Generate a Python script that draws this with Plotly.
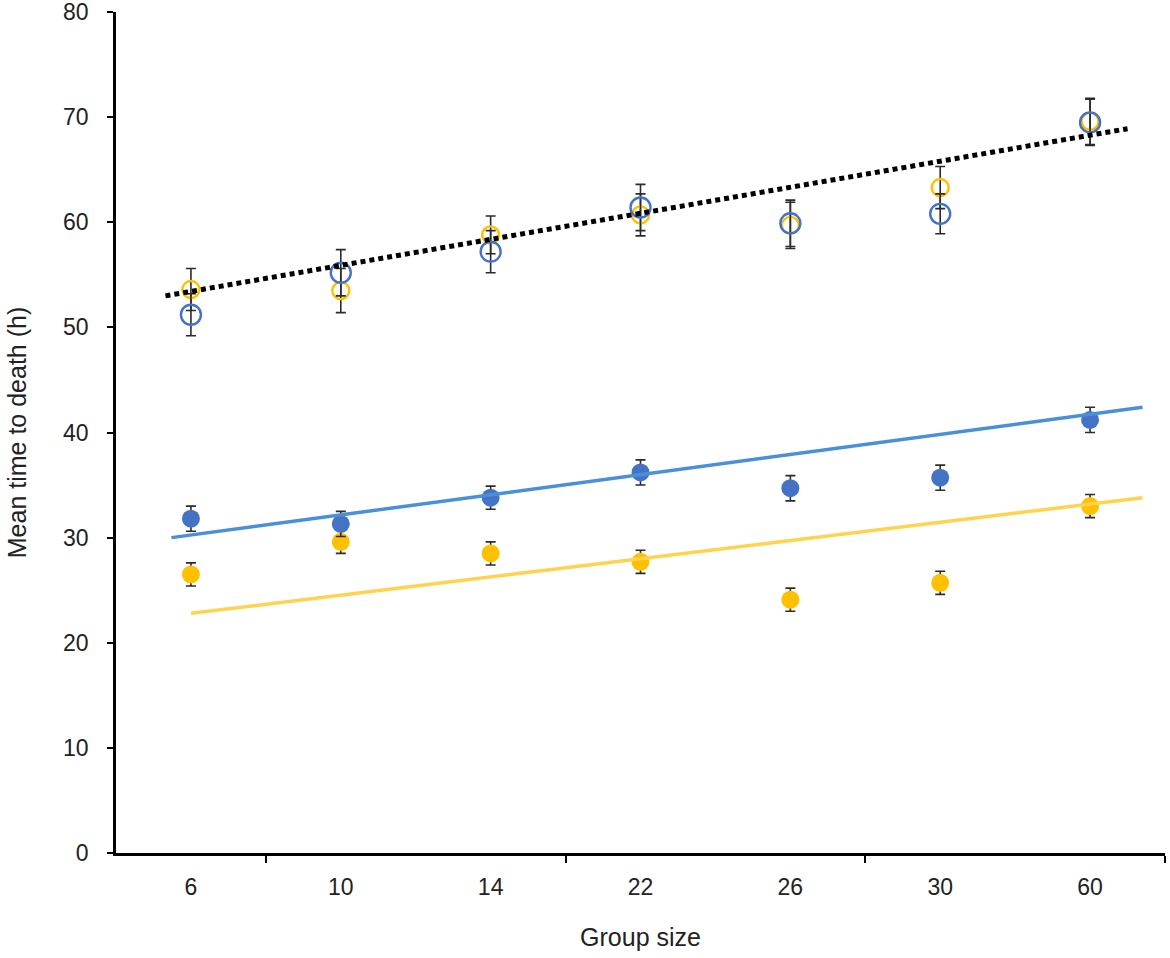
import plotly.graph_objects as go

# Categories (group size), equally spaced on a category axis
group_sizes = ["6", "10", "14", "22", "26", "30", "60"]
cat_index = list(range(len(group_sizes)))

# Filled markers
blue_filled = [31.8, 31.3, 33.8, 36.2, 34.7, 35.7, 41.2]
blue_filled_err = [1.2, 1.2, 1.1, 1.2, 1.2, 1.2, 1.2]
orange_filled = [26.5, 29.6, 28.5, 27.7, 24.1, 25.7, 33.0]
orange_filled_err = [1.1, 1.1, 1.1, 1.1, 1.1, 1.1, 1.1]

# Open markers
blue_open = [51.2, 55.2, 57.2, 61.4, 59.9, 60.8, 69.5]
blue_open_err = [2.0, 2.2, 2.0, 2.2, 2.2, 1.9, 2.2]
orange_open = [53.6, 53.5, 58.8, 60.7, 59.7, 63.3, 69.6]
orange_open_err = [2.0, 2.1, 1.8, 2.0, 2.2, 2.0, 2.2]

# Trend lines (x in category-index units, y values)
blue_trend_x = [-0.13, 6.35]
blue_trend_y = [30.0, 42.4]
orange_trend_x = [0.0, 6.35]
orange_trend_y = [22.8, 33.8]
black_trend_x = [-0.17, 6.25]
black_trend_y = [53.0, 68.9]

# Tick values for the axes
y_ticks = [0, 10, 20, 30, 40, 50, 60, 70, 80]
x_boundary_ticks = [0.5, 2.5, 4.5, 6.5]

BLUE = "#4472C4"
ORANGE = "#FFC000"
BLUE_LINE = "#4A90D9"
ORANGE_LINE = "#FFD34D"
ERR = "#2b2b2b"

fig = go.Figure()

def err(vals):
    return dict(type="data", array=vals, visible=True, color=ERR, thickness=1.6, width=5)

fig.add_trace(go.Scatter(x=cat_index, y=orange_filled, mode="markers",
                         marker=dict(color=ORANGE, size=18, line=dict(width=0)),
                         error_y=err(orange_filled_err), showlegend=False))
fig.add_trace(go.Scatter(x=cat_index, y=blue_filled, mode="markers",
                         marker=dict(color=BLUE, size=18, line=dict(width=0)),
                         error_y=err(blue_filled_err), showlegend=False))
fig.add_trace(go.Scatter(x=cat_index, y=orange_open, mode="markers",
                         marker=dict(color="rgba(0,0,0,0)", size=17, symbol="circle",
                                     line=dict(color=ORANGE, width=2.4)),
                         error_y=err(orange_open_err), showlegend=False))
fig.add_trace(go.Scatter(x=cat_index, y=blue_open, mode="markers",
                         marker=dict(color="rgba(0,0,0,0)", size=20, symbol="circle",
                                     line=dict(color=BLUE, width=2.4)),
                         error_y=err(blue_open_err), showlegend=False))

fig.add_trace(go.Scatter(x=blue_trend_x, y=blue_trend_y, mode="lines",
                         line=dict(color=BLUE_LINE, width=3.5), showlegend=False))
fig.add_trace(go.Scatter(x=orange_trend_x, y=orange_trend_y, mode="lines",
                         line=dict(color=ORANGE_LINE, width=3.5), showlegend=False))
fig.add_trace(go.Scatter(x=black_trend_x, y=black_trend_y, mode="lines",
                         line=dict(color="black", width=5, dash="5px,4px"), showlegend=False))

font_family = "Liberation Sans, Arial, sans-serif"

fig.update_layout(
    width=1170, height=958,
    margin=dict(l=116, r=5, t=12, b=105),
    plot_bgcolor="white", paper_bgcolor="white",
    font=dict(family=font_family, color="#222", size=23),
    xaxis=dict(
        range=[-0.5, 6.5], tickmode="array", tickvals=cat_index, ticktext=group_sizes,
        ticks="", showgrid=False, zeroline=False, automargin=False,
        showline=True, linecolor="black", linewidth=2.5,
        tickfont=dict(size=23), ticklabelstandoff=12, ticklabeloverflow="allow",
        title=dict(text="Group size", font=dict(size=25), standoff=30),
        minor=dict(tickmode="array", tickvals=x_boundary_ticks, ticks="outside",
                   ticklen=7, tickwidth=1.5, tickcolor="black", showgrid=False),
    ),
    yaxis=dict(
        range=[0, 80], tickmode="array", tickvals=y_ticks,
        ticks="outside", ticklen=6, tickwidth=1.5, tickcolor="black",
        showgrid=False, zeroline=False, automargin=False,
        showline=True, linecolor="black", linewidth=2.5,
        tickfont=dict(size=23), ticklabelstandoff=14, ticklabeloverflow="allow",
        title=dict(text="Mean time to death (h)", font=dict(size=25), standoff=30),
    ),
)

fig.write_html("out.html", config={"displayModeBar": False},
               post_script="document.body.style.margin='0';")
